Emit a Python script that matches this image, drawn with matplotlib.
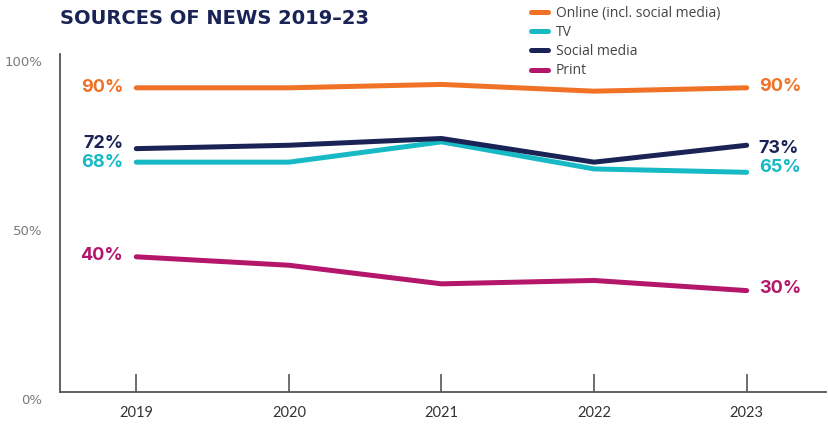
import matplotlib
matplotlib.use("Agg")
import matplotlib.pyplot as plt
from matplotlib.transforms import ScaledTranslation

years = [2019, 2020, 2021, 2022, 2023]
online = [90, 90, 91, 89, 90]
tv = [68, 68, 74, 66, 65]
social = [72, 73, 75, 68, 73]
printv = [40, 37.5, 32, 33, 30]

series_names = ["Online (incl. social media)", "TV", "Social media", "Print"]
series_values = [online, tv, social, printv]
colors = ["#F07226", "#17B9C4", "#1A2355", "#B3166B"]
start_labels = ["90%", "68%", "72%", "40%"]
end_labels = ["90%", "65%", "73%", "30%"]
start_offsets = [0, 0, 5, 1]   # px vertical nudges (positive = up)
end_offsets = [1, 5, -3, 2]
yticks = [0, 50, 100]
ytick_labels = ["0%", "50%", "100%"]

W, H = 829, 424
fig = plt.figure(figsize=(W / 100, H / 100), dpi=100)
ax = fig.add_axes([60 / W, 32 / H, 766 / W, 338 / H])

lines = []
for name, vals, c in zip(series_names, series_values, colors):
    ln, = ax.plot(years, vals, color=c, lw=3.6, solid_capstyle="round",
                  solid_joinstyle="round", label=name, clip_on=False)
    lines.append(ln)

# end labels
for vals, c, sl, el, so, eo in zip(series_values, colors, start_labels, end_labels,
                                    start_offsets, end_offsets):
    ax.annotate(sl, (years[0], vals[0]), xytext=(-13, so), textcoords="offset pixels",
                ha="right", va="center", fontsize=13, fontweight="bold",
                color=c, family="Inter")
    ax.annotate(el, (years[-1], vals[-1]), xytext=(12, eo), textcoords="offset pixels",
                ha="left", va="center", fontsize=13, fontweight="bold",
                color=c, family="Inter")

ax.set_xlim(2018.5, 2023.52)
ax.set_ylim(0, 100)
ax.set_xticks(years)
ax.set_xticklabels([str(y) for y in years], family="Lato", fontsize=10.5, color="#333333")
ax.set_yticks(yticks)
ax.set_yticklabels(ytick_labels, family="DejaVu Sans", fontsize=9.5, color="#7a7a7a")
ax.tick_params(axis="x", direction="in", length=13, width=1.2, color="#555555", pad=10)
ax.tick_params(axis="y", length=0, pad=13)
for lab in ax.get_yticklabels():
    lab.set_transform(lab.get_transform() + ScaledTranslation(0, -0.07, fig.dpi_scale_trans))

for s in ["top", "right"]:
    ax.spines[s].set_visible(False)
for s in ["left", "bottom"]:
    ax.spines[s].set_color("#555555")
    ax.spines[s].set_linewidth(1.3)

fig.text(60 / W, 1 - 18 / H, "SOURCES OF NEWS 2019–23", ha="left", va="center",
         fontsize=14, fontweight="bold", color="#1A2355", family="DejaVu Sans")

leg = fig.legend(handles=lines, loc="upper left", bbox_to_anchor=(531 / W, 1 - 6 / H),
                 frameon=False, handlelength=1.2, handletextpad=0.6, labelspacing=0.3,
                 borderpad=0, borderaxespad=0,
                 prop={"family": "Open Sans", "size": 10})
for t in leg.get_texts():
    t.set_color("#444444")

fig.savefig("out.png", dpi=100)
